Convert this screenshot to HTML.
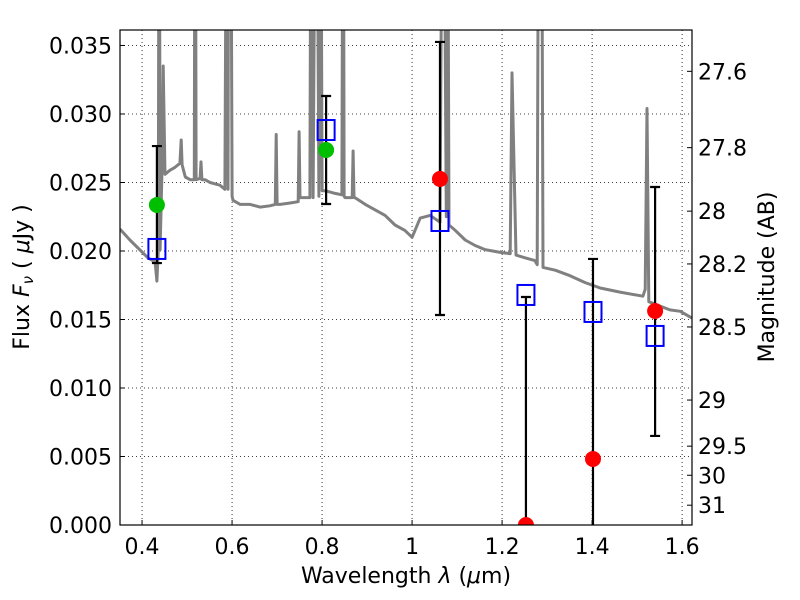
<!DOCTYPE html>
<html><head><meta charset="utf-8"><style>
html,body{margin:0;padding:0;background:#fff;}
svg{display:block;font-family:"DejaVu Sans","Liberation Sans",sans-serif;}
</style></head><body>
<svg id="chart" width="800" height="600" viewBox="0 0 800 600" xmlns="http://www.w3.org/2000/svg">
<defs><clipPath id="plotclip"><rect x="120" y="30" width="572" height="495"/></clipPath></defs>
<rect x="0" y="0" width="800" height="600" fill="#fff"/>
<g id="grid"></g>
<g id="spec" clip-path="url(#plotclip)"></g>
<g id="marks" clip-path="url(#plotclip)"></g>
<g id="axes"></g>
<text x="406" y="583" font-size="22" text-anchor="middle">Wavelength  <tspan font-style="italic">λ</tspan> (<tspan font-style="italic">μ</tspan>m)</text>
<text transform="translate(29,277) rotate(-90)" font-size="22" text-anchor="middle">Flux  <tspan font-style="italic">F</tspan><tspan font-style="italic" font-size="15" dy="4">ν</tspan><tspan dy="-4">  ( </tspan><tspan font-style="italic">μ</tspan>Jy )</text>
<text transform="translate(774,277) rotate(-90)" font-size="22" text-anchor="middle">Magnitude (AB)</text>
</svg>
<script>
const xTicks = [0.4, 0.6, 0.8, 1.0, 1.2, 1.4, 1.6];
const xTickLabels = ["0.4", "0.6", "0.8", "1", "1.2", "1.4", "1.6"];
const yTicks = [0, 0.005, 0.010, 0.015, 0.020, 0.025, 0.030, 0.035];
const yTickLabels = ["0.000", "0.005", "0.010", "0.015", "0.020", "0.025", "0.030", "0.035"];
const magTicks = [27.6, 27.8, 28, 28.2, 28.5, 29, 29.5, 30, 31];
const magTickLabels = ["27.6", "27.8", "28", "28.2", "28.5", "29", "29.5", "30", "31"];
const spectrum = [[0.351,0.0216],[0.373,0.0208],[0.413,0.0195],[0.429,0.0192],[0.433,0.0178],[0.436,0.0201],[0.438,0.06],[0.440,0.0201],[0.444,0.0256],[0.447,0.0335],[0.451,0.0256],[0.462,0.0259],[0.473,0.0261],[0.484,0.0264],[0.487,0.0281],[0.489,0.0263],[0.496,0.0254],[0.507,0.0252],[0.516,0.0252],[0.518,0.06],[0.520,0.0252],[0.529,0.0253],[0.531,0.0265],[0.533,0.0252],[0.540,0.0252],[0.551,0.0250],[0.573,0.0248],[0.584,0.0245],[0.589,0.06],[0.591,0.0245],[0.593,0.06],[0.596,0.06],[0.600,0.0240],[0.602,0.0237],[0.618,0.0234],[0.640,0.0234],[0.662,0.0232],[0.684,0.0233],[0.696,0.0234],[0.698,0.0285],[0.700,0.0234],[0.707,0.0234],[0.729,0.0235],[0.747,0.0236],[0.749,0.0287],[0.751,0.0239],[0.773,0.0239],[0.776,0.06],[0.780,0.0239],[0.787,0.06],[0.793,0.0240],[0.796,0.06],[0.800,0.0244],[0.807,0.0244],[0.829,0.0242],[0.844,0.0241],[0.847,0.06],[0.849,0.0240],[0.851,0.0239],[0.867,0.0239],[0.869,0.0273],[0.871,0.0239],[0.873,0.0239],[0.896,0.0234],[0.918,0.0230],[0.940,0.0226],[0.962,0.0219],[0.984,0.0215],[1.000,0.0210],[1.018,0.0224],[1.040,0.0226],[1.062,0.0221],[1.069,0.06],[1.076,0.0225],[1.078,0.06],[1.082,0.0219],[1.096,0.0215],[1.118,0.0208],[1.140,0.0204],[1.162,0.0201],[1.196,0.0199],[1.218,0.0198],[1.222,0.0330],[1.231,0.0197],[1.251,0.0195],[1.273,0.0193],[1.278,0.0190],[1.282,0.06],[1.287,0.06],[1.291,0.0188],[1.318,0.0186],[1.351,0.0182],[1.384,0.0177],[1.418,0.0173],[1.462,0.0170],[1.513,0.0167],[1.518,0.0172],[1.522,0.0304],[1.526,0.0163],[1.573,0.0157],[1.596,0.0156],[1.622,0.0151]];
const bandWave = [0.433, 0.809, 1.062, 1.253, 1.402, 1.540];
const modelFlux = [0.02015, 0.02883, 0.02219, 0.01679, 0.01555, 0.0138];
const errLow = [0.01912, 0.02343, 0.01533, 0.0, -0.002, 0.0065];
const errHigh = [0.02766, 0.03131, 0.03526, 0.01664, 0.01942, 0.02467];
const greenWave = [0.433, 0.809];
const greenFlux = [0.02336, 0.02737];
const redWave = [1.062, 1.253, 1.402, 1.540];
const redFlux = [0.02526, 0.0, 0.00482, 0.01562];

const X0=120, X1=692, Y0=525, Y1=30;
const xmin=0.351, xmax=1.622, ymin=0, ymax=0.03613;
const sx = v => X0 + (v - xmin) / (xmax - xmin) * (X1 - X0);
const sy = v => Y0 - (v - ymin) / (ymax - ymin) * (Y0 - Y1);
const magToFlux = m => Math.pow(10, -0.4 * (m - 23.9));
const NS = "http://www.w3.org/2000/svg";
function mk(parent, tag, attrs, txt) {
  const e = document.createElementNS(NS, tag);
  for (const k in attrs) e.setAttribute(k, attrs[k]);
  if (txt !== undefined) e.textContent = txt;
  parent.appendChild(e); return e;
}
const grid = document.getElementById('grid');
const axes = document.getElementById('axes');
const spec = document.getElementById('spec');
const marks = document.getElementById('marks');

xTicks.forEach((t, i) => {
  const x = sx(t);
  const g = mk(grid, 'line', {x1:x, x2:x, y1:Y1, y2:Y0, stroke:'#000', 'stroke-width':0.8, 'stroke-dasharray':'1,3'});
  
  
  const tk = mk(axes, 'line', {x1:x, x2:x, y1:Y0, y2:Y0-5, stroke:'#000', 'stroke-width':1});
  
  
  const tl = mk(axes, 'text', {x:x, y:Y0+29, 'font-size':22, 'text-anchor':'middle'}, xTickLabels[i]);
  
  
});
yTicks.forEach((t, i) => {
  const y = sy(t);
  const g = mk(grid, 'line', {x1:X0, x2:X1, y1:y, y2:y, stroke:'#000', 'stroke-width':0.8, 'stroke-dasharray':'1,3'});
  
  
  const tk = mk(axes, 'line', {x1:X0, x2:X0+5, y1:y, y2:y, stroke:'#000', 'stroke-width':1});
  
  
  const tl = mk(axes, 'text', {x:X0-8, y:y+8, 'font-size':22, 'text-anchor':'end'}, yTickLabels[i]);
  
  
});
magTicks.forEach((m, i) => {
  const y = sy(magToFlux(m));
  const tk = mk(axes, 'line', {x1:X1-5, x2:X1, y1:y, y2:y, stroke:'#000', 'stroke-width':1});
  
  
  const tl = mk(axes, 'text', {x:X1+6, y:y+8, 'font-size':22, 'text-anchor':'start'}, magTickLabels[i]);
  
  
});
const frame = mk(axes, 'rect', {x:X0, y:Y1, width:X1-X0, height:Y0-Y1, fill:'none', stroke:'#000', 'stroke-width':1.2});



const d = spectrum.map((p, i) => (i ? 'L' : 'M') + sx(p[0]).toFixed(1) + ',' + sy(p[1]).toFixed(1)).join(' ');
const sp = mk(spec, 'path', {d:d, fill:'none', stroke:'#808080', 'stroke-width':3, 'stroke-linejoin':'round'});



bandWave.forEach((w, i) => {
  const x = sx(w), yl = sy(errLow[i]), yh = sy(errHigh[i]);
  const e = mk(marks, 'path', {d:`M${x},${yl} V${yh} M${x-5},${yl} H${x+5} M${x-5},${yh} H${x+5}`, stroke:'#000', 'stroke-width':2.2, fill:'none'});
  
  
});
greenWave.forEach((w, i) => {
  const c = mk(marks, 'circle', {cx:sx(w), cy:sy(greenFlux[i]), r:8, fill:'#00bf00'});
  
  
});
redWave.forEach((w, i) => {
  const c = mk(marks, 'circle', {cx:sx(w), cy:sy(redFlux[i]), r:8, fill:'#ff0000'});
  
  
});
bandWave.forEach((w, i) => {
  const r = mk(marks, 'rect', {x:sx(w)-8.5, y:sy(modelFlux[i])-10, width:17, height:20, fill:'none', stroke:'#0000ff', 'stroke-width':2});
  
  
});
</script>
</body></html>
